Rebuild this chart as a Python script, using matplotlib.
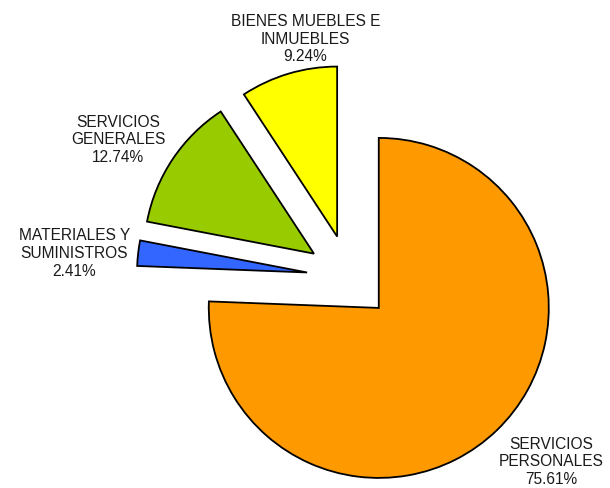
import matplotlib
matplotlib.use("Agg")
import matplotlib.pyplot as plt

plt.rcParams['font.family'] = ['Liberation Sans', 'DejaVu Sans']

# Chart data
categories = ['SERVICIOS\nPERSONALES', 'MATERIALES Y\nSUMINISTROS',
              'SERVICIOS\nGENERALES', 'BIENES MUEBLES E\nINMUEBLES']
shares = [75.61, 2.41, 12.74, 9.24]
colors = ['#FF9900', '#3366FF', '#99CC00', '#FFFF00']

# label anchor points in pixels of the 610x488 picture
label_px = [(551.5, 462), (74.5, 253.5), (118, 140), (305.5, 39)]

# pie centre and radius in pixels
cx, cy, r_px = 349.3, 277.3, 170.0
W, H = 610, 488

fig = plt.figure(figsize=(W / 100, H / 100), dpi=100)
ax = fig.add_axes([0, 0, 1, 1])

ax.pie(shares, colors=colors, startangle=90, counterclock=False,
       explode=[0.25] * len(shares), radius=1.0,
       wedgeprops=dict(edgecolor='black', linewidth=1.3))

for name, val, (px, py) in zip(categories, shares, label_px):
    x = (px - cx) / r_px
    y = (cy - py) / r_px
    ax.text(x, y, f"{name}\n{val:.2f}%", ha='center', va='center',
            fontsize=11.2, linespacing=1.22, color='#1a1a1a')

ax.set_xlim(-cx / r_px, (W - cx) / r_px)
ax.set_ylim((cy - H) / r_px, cy / r_px)
ax.set_aspect('equal')
ax.axis('off')

fig.savefig('out.png', dpi=100)
